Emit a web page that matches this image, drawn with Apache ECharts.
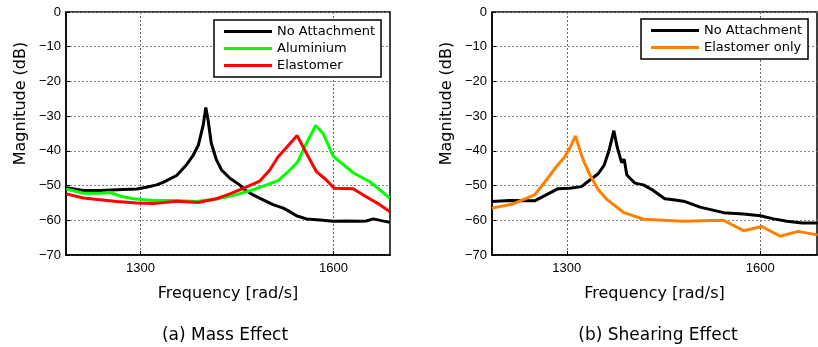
<!DOCTYPE html>
<html>
<head>
<meta charset="utf-8">
<script src="https://cdn.jsdelivr.net/npm/echarts@6/dist/echarts.min.js"></script>
<style>html,body{margin:0;padding:0;background:#fff}#c{width:818px;height:347px}</style>
</head>
<body>
<div id="c"></div>
<script>
// ---- Data ----
const xTickValues = [1300, 1600];
const captions = ['(a) Mass Effect', '(b) Shearing Effect'];

// Panel (a): Mass Effect
const aNoAttachX = [1184.5,1211,1237,1263,1294,1309,1325,1335,1356,1371.5,1382,1390,1397.4,1401.5,1405,1410,1418,1426,1439,1454,1462,1475,1490.7,1506,1522,1532,1542.5,1558,1579,1599.5,1620,1641,1651,1662,1674.6,1687.6];
const aNoAttachY = [-50.6,-51.4,-51.4,-51.2,-51.0,-50.5,-49.8,-49.1,-47.1,-44.0,-41.2,-38.3,-32.6,-27.5,-31.1,-37.8,-42.6,-45.5,-47.9,-49.8,-51.2,-52.7,-54.1,-55.5,-56.5,-57.5,-58.7,-59.6,-59.9,-60.3,-60.2,-60.3,-60.2,-59.6,-60.1,-60.6];
const aAluX = [1184.5,1211,1237,1252,1268,1288.6,1320,1356,1387,1418,1444,1475,1496,1514,1529.5,1544,1558,1572.5,1584,1599.5,1630.6,1656.5,1672,1687.6];
const aAluY = [-51.0,-52.2,-52.2,-52.0,-53.0,-53.8,-54.3,-54.3,-54.6,-53.9,-52.9,-51.2,-49.8,-48.6,-46.0,-43.3,-37.8,-32.7,-35.0,-41.5,-46.3,-48.9,-51.2,-53.6];
const aElaX = [1184.5,1211,1237,1263,1294,1320,1356,1389.6,1418,1439,1459.6,1485.5,1501,1514,1528,1543.5,1558,1573.6,1589,1601,1630.6,1651,1672,1687.6];
const aElaY = [-52.4,-53.6,-54.1,-54.6,-55.0,-55.2,-54.5,-54.9,-53.8,-52.4,-50.8,-48.7,-45.5,-41.7,-38.8,-35.6,-40.7,-46.0,-48.4,-50.8,-50.9,-53.2,-55.5,-57.5];

// Panel (b): Shearing Effect
const bNoAttachX = [1184,1211,1250,1268,1286.5,1304.7,1322.8,1335.8,1348.7,1358,1365,1369.4,1373,1378,1385,1389,1393,1398,1405.7,1418.7,1434,1452,1465,1483.4,1506.7,1543,1574,1600,1620.7,1641.5,1664.8,1688.6];
const bNoAttachY = [-54.6,-54.3,-54.4,-52.7,-50.9,-50.8,-50.3,-48.4,-46.6,-44.1,-40.2,-36.9,-34.2,-38.8,-43.4,-42.4,-46.9,-47.9,-49.3,-49.8,-51.4,-53.8,-54.1,-54.6,-56.2,-57.8,-58.2,-58.7,-59.6,-60.3,-60.8,-60.8];
const bElaOnlyX = [1184,1216.6,1250,1268.4,1284,1297,1305.7,1313.5,1318.7,1325.4,1335.8,1348.7,1361.7,1387.6,1418.7,1480.8,1543,1574,1602.6,1631,1658.5,1688.6];
const bElaOnlyY = [-56.5,-55.3,-52.7,-48.4,-44.5,-41.7,-38.8,-35.7,-38.8,-42.6,-46.9,-51.2,-53.9,-57.7,-59.7,-60.3,-60.0,-63.0,-61.8,-64.6,-63.2,-64.2];

// ---- Build ----
const zip = (xs, ys) => xs.map((x, i) => [x, ys[i]]);
const chart = echarts.init(document.getElementById('c'), null, {renderer: 'canvas'});

const numFont = 'Liberation Sans';
const txtFont = 'DejaVu Sans';

function makeGrid(left, width) {
  return {left: left, top: 12, width: width, height: 243, show: true, borderColor: '#000', borderWidth: 1.5, backgroundColor: 'transparent'};
}
function makeX(gi) {
  return {
    type: 'value', gridIndex: gi, min: 1184, max: 1688,
    name: 'Frequency [rad/s]', nameLocation: 'middle', nameGap: 31,
    nameTextStyle: {fontFamily: txtFont, fontSize: 16, color: '#000'},
    axisLine: {show: true, onZero: false, lineStyle: {color: '#000', width: 1.5}},
    axisTick: {show: true, inside: true, length: 4, customValues: xTickValues, lineStyle: {color: '#000'}},
    axisLabel: {customValues: xTickValues, fontFamily: numFont, fontSize: 13, color: '#000', margin: 7,
      formatter: v => String(v)},
    splitLine: {show: true, lineStyle: {color: '#666', type: [2, 2], width: 1}}
  };
}
function makeY(gi) {
  return {
    type: 'value', gridIndex: gi, min: -70, max: 0, interval: 10,
    name: 'Magnitude (dB)', nameLocation: 'middle', nameGap: 37,
    nameTextStyle: {fontFamily: txtFont, fontSize: 16, color: '#000', padding: [0, 0, 0, 60]},
    axisLine: {show: true, onZero: false, lineStyle: {color: '#000', width: 1.5}},
    axisTick: {show: true, inside: true, length: 4, lineStyle: {color: '#000'}},
    axisLabel: {fontFamily: numFont, fontSize: 13, color: '#000', margin: 5,
      formatter: v => (v < 0 ? '\u2212' + Math.abs(v) : String(v))},
    splitLine: {show: true, lineStyle: {color: '#888', type: [2, 2], width: 1}}
  };
}
function line(name, gi, xs, ys, color) {
  return {
    name: name, type: 'line', xAxisIndex: gi, yAxisIndex: gi,
    data: zip(xs, ys), showSymbol: false, symbol: 'none', smooth: false,
    lineStyle: {color: color, width: 3}, itemStyle: {color: color}, animation: false
  };
}
const legendCommon = {
  orient: 'vertical', icon: 'rect', itemWidth: 48, itemHeight: 3, itemGap: 2,
  borderColor: '#000', borderWidth: 1.5, backgroundColor: '#fff', borderRadius: 0,
  textStyle: {fontFamily: txtFont, fontSize: 13, color: '#000', lineHeight: 15},
  selectedMode: false
};

chart.setOption({
  animation: false,
  backgroundColor: '#fff',
  title: [
    {text: captions[0], left: 220, top: 322, textAlign: 'center',
     textStyle: {fontFamily: txtFont, fontSize: 17, fontWeight: 'normal', color: '#000'}},
    {text: captions[1], left: 653, top: 322, textAlign: 'center',
     textStyle: {fontFamily: txtFont, fontSize: 17, fontWeight: 'normal', color: '#000'}}
  ],
  grid: [makeGrid(66, 324), makeGrid(492, 325)],
  xAxis: [makeX(0), makeX(1)],
  yAxis: [makeY(0), makeY(1)],
  legend: [
    Object.assign({}, legendCommon, {left: 214, top: 20, padding: [4, 6, 4, 10],
      data: ['No Attachment', 'Aluminium', 'Elastomer']}),
    Object.assign({}, legendCommon, {left: 641, top: 19, padding: [4, 6, 4, 10],
      data: ['No Attachment', 'Elastomer only']})
  ],
  series: [
    line('No Attachment', 0, aNoAttachX, aNoAttachY, '#000000'),
    line('Aluminium', 0, aAluX, aAluY, '#00ff00'),
    line('Elastomer', 0, aElaX, aElaY, '#ff0000'),
    line('No Attachment', 1, bNoAttachX, bNoAttachY, '#000000'),
    line('Elastomer only', 1, bElaOnlyX, bElaOnlyY, '#ff8000')
  ]
});
</script>
</body>
</html>
